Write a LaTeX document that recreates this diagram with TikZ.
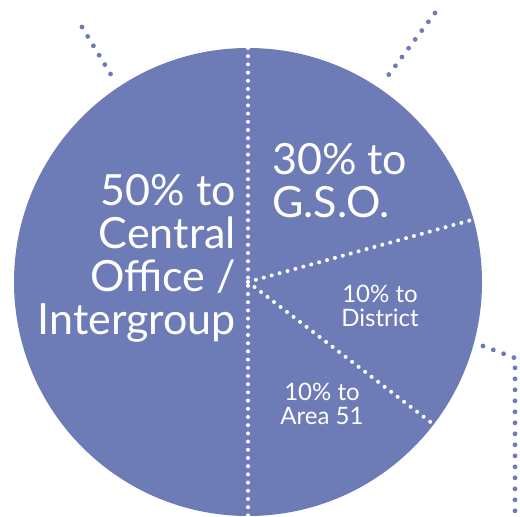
\documentclass[tikz,border=0pt]{standalone}
\usepackage{fontspec}
\setmainfont{Lato}
\usepackage{tikz}

\definecolor{pieblue}{RGB}{109,124,183}

\begin{document}
\begin{tikzpicture}[x=1pt, y=1pt,
    wdots/.style={white, line width=4pt, line cap=round, dash pattern=on 0pt off 8.2pt},
    bdots/.style={pieblue, line width=4.8pt, line cap=round, dash pattern=on 0pt off 11pt},
    bigtext/.style={white, inner sep=0pt, font=\fontsize{43}{43}\selectfont},
    smalltext/.style={white, inner sep=0pt, align=center, font=\fontsize{24}{24}\selectfont}]
    \useasboundingbox (0,0) rectangle (520,517);

    \coordinate (O) at (248,235);
    \fill[pieblue] (O) circle (234);

    % spokes
    \draw[wdots] (248,469) -- (248,1);
    \draw[wdots] (O) -- ++(15.5:232);
    \draw[wdots] (O) -- ++(-37.5:232);

    % leaders outside
    \coordinate (L1) at (82,490);
    \coordinate (L2) at (116,434);
    \coordinate (R1) at (435,504);
    \coordinate (R2) at (384,436);
    \coordinate (B1) at (483,171);
    \coordinate (B2) at (515,159);
    \coordinate (B3) at (515,0);
    \draw[bdots] (L1) -- (L2);
    \draw[bdots] (R1) -- (R2);
    \draw[bdots] (B1) -- (B2) -- (B3);

    % labels (base = last line)
    \node[bigtext, align=right, anchor=base east] (central) at (236,182)
        {50\% to\\Central\\Office /\\Intergroup};
    \node[bigtext, align=left, anchor=base west] (gso) at (272,299)
        {30\% to\\G.S.O.};
    \node[smalltext, anchor=base] (district) at (380,190) {10\% to\\District};
    \node[smalltext, anchor=base] (area) at (322,92) {10\% to\\Area 51};
\end{tikzpicture}
\end{document}
